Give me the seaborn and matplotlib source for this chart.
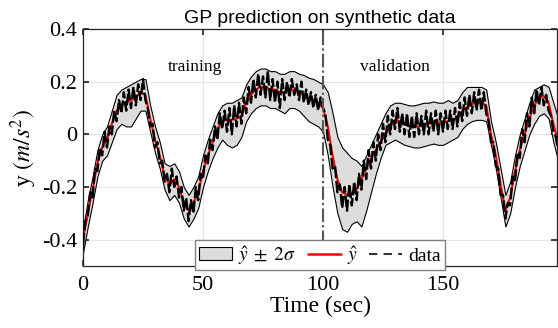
import numpy as np
import pandas as pd
import seaborn as sns
import matplotlib.pyplot as plt
from matplotlib.patches import Patch
from matplotlib.lines import Line2D

# GP posterior, every 2 s
t_gp = np.arange(0, 200, 2)
y_hat = [-0.40, -0.30, -0.21, -0.11, -0.05, -0.02, 0.04, 0.09, 0.11, 0.12,
         0.13, 0.14, 0.16, 0.15, 0.06, -0.02, -0.08, -0.16, -0.19, -0.17,
         -0.20, -0.26, -0.29, -0.26, -0.22, -0.14, -0.08, -0.03, 0.02, 0.05,
         0.055, 0.055, 0.06, 0.07, 0.12, 0.15, 0.17, 0.18, 0.18, 0.17,
         0.17, 0.16, 0.16, 0.17, 0.17, 0.16, 0.15, 0.135, 0.13, 0.12,
         0.10, 0.03, -0.08, -0.17, -0.22, -0.23, -0.225, -0.21, -0.17, -0.13,
         -0.09, -0.06, -0.03, 0.00, 0.03, 0.055, 0.05, 0.04, 0.03, 0.03,
         0.03, 0.035, 0.04, 0.045, 0.045, 0.045, 0.05, 0.055, 0.06, 0.09,
         0.105, 0.115, 0.12, 0.12, 0.11, 0.00, -0.08, -0.19, -0.29, -0.24,
         -0.14, -0.06, 0.00, 0.06, 0.11, 0.14, 0.145, 0.12, 0.04, -0.03]
band_lo = [-0.45, -0.35, -0.26, -0.16, -0.10, -0.08, -0.03, 0.02, 0.04, 0.03,
           0.03, 0.06, 0.09, 0.09, 0.01, -0.07, -0.13, -0.21, -0.25, -0.23,
           -0.26, -0.32, -0.35, -0.32, -0.28, -0.20, -0.14, -0.09, -0.05, -0.02,
           -0.04, -0.05, -0.04, -0.01, 0.05, 0.08, 0.10, 0.11, 0.11, 0.10,
           0.10, 0.09, 0.08, 0.10, 0.10, 0.09, 0.07, 0.05, 0.04, 0.03,
           0.01, -0.08, -0.20, -0.30, -0.36, -0.37, -0.34, -0.33, -0.35, -0.29,
           -0.22, -0.15, -0.09, -0.04, -0.03, -0.02, -0.03, -0.04, -0.045, -0.05,
           -0.05, -0.045, -0.04, -0.035, -0.04, -0.04, -0.03, -0.02, -0.01, 0.02,
           0.04, 0.05, 0.055, 0.055, 0.05, -0.04, -0.13, -0.24, -0.35, -0.30,
           -0.20, -0.12, -0.06, 0.00, 0.04, 0.07, 0.08, 0.06, -0.03, -0.10]
band_hi = [-0.36, -0.25, -0.16, -0.06, 0.00, 0.03, 0.09, 0.15, 0.17, 0.18,
           0.19, 0.20, 0.21, 0.21, 0.11, 0.03, -0.03, -0.11, -0.12, -0.11,
           -0.14, -0.20, -0.23, -0.20, -0.16, -0.08, -0.02, 0.03, 0.08, 0.11,
           0.12, 0.12, 0.13, 0.14, 0.19, 0.22, 0.24, 0.25, 0.25, 0.24,
           0.24, 0.23, 0.23, 0.24, 0.24, 0.23, 0.225, 0.215, 0.21, 0.20,
           0.19, 0.16, 0.08, -0.01, -0.05, -0.07, -0.09, -0.10, -0.12, -0.08,
           -0.04, 0.00, 0.04, 0.08, 0.11, 0.12, 0.12, 0.115, 0.11, 0.11,
           0.115, 0.12, 0.12, 0.125, 0.12, 0.12, 0.13, 0.12, 0.13, 0.16,
           0.18, 0.18, 0.18, 0.18, 0.17, 0.05, -0.03, -0.13, -0.23, -0.18,
           -0.08, 0.00, 0.06, 0.12, 0.17, 0.18, 0.19, 0.18, 0.12, 0.06]

# measured data, 1 s steps
t_data = np.arange(0, 199, 1)
y_data = [-0.42, -0.33, -0.31, -0.22, -0.24, -0.13, -0.14, -0.05, -0.08, 0.01,
          -0.05, 0.03, 0.00, 0.09, 0.05, 0.13, 0.08, 0.16, 0.09, 0.17,
          0.10, 0.18, 0.11, 0.19, 0.13, 0.21, 0.13, 0.10, 0.03, 0.04,
          -0.05, -0.03, -0.11, -0.10, -0.18, -0.15, -0.22, -0.13, -0.20, -0.16,
          -0.24, -0.20, -0.29, -0.24, -0.33, -0.25, -0.30, -0.20, -0.25, -0.15,
          -0.17, -0.08, -0.11, -0.02, -0.06, 0.03, -0.02, 0.08, 0.02, 0.09,
          0.01, 0.10, 0.00, 0.11, 0.03, 0.12, 0.04, 0.14, 0.08, 0.18,
          0.12, 0.21, 0.14, 0.23, 0.15, 0.22, 0.14, 0.24, 0.13, 0.21,
          0.12, 0.20, 0.10, 0.21, 0.13, 0.20, 0.14, 0.21, 0.15, 0.19,
          0.13, 0.20, 0.12, 0.17, 0.11, 0.16, 0.10, 0.15, 0.09, 0.14,
          0.10, 0.08, -0.02, -0.04, -0.13, -0.12, -0.22, -0.19, -0.28, -0.20,
          -0.29, -0.19, -0.27, -0.18, -0.25, -0.15, -0.21, -0.10, -0.17, -0.06,
          -0.13, -0.03, -0.10, 0.00, -0.06, 0.04, -0.03, 0.07, 0.00, 0.09,
          0.02, 0.10, 0.01, 0.08, 0.00, 0.08, -0.01, 0.07, -0.01, 0.08,
          0.00, 0.07, 0.00, 0.09, 0.00, 0.08, 0.01, 0.09, 0.00, 0.08,
          0.01, 0.09, 0.02, 0.09, 0.02, 0.10, 0.03, 0.12, 0.05, 0.14,
          0.07, 0.15, 0.08, 0.16, 0.09, 0.17, 0.09, 0.16, 0.08, 0.05,
          -0.03, -0.03, -0.12, -0.13, -0.23, -0.23, -0.32, -0.26, -0.27, -0.16,
          -0.18, -0.07, -0.09, 0.02, -0.03, 0.08, 0.03, 0.14, 0.08, 0.17,
          0.11, 0.18, 0.11, 0.15, 0.09, 0.07, 0.01, -0.01, -0.06]

gp = pd.DataFrame({"t": t_gp, "yhat": y_hat, "lo": band_lo, "hi": band_hi})
meas = pd.DataFrame({"t": t_data, "y": y_data})

sns.set_theme(style="whitegrid")
plt.rcParams['font.family'] = ['Liberation Serif', 'DejaVu Serif']
plt.rcParams['mathtext.fontset'] = 'stix'
plt.rcParams['axes.unicode_minus'] = False
plt.rcParams['text.color'] = 'black'
plt.rcParams['axes.labelcolor'] = 'black'
plt.rcParams['xtick.color'] = 'black'
plt.rcParams['ytick.color'] = 'black'

fig = plt.figure(figsize=(5.58, 3.28), dpi=100)
ax = fig.add_axes([83/558, 1-266/328, 474/558, 237/328])

ax.fill_between(gp["t"], gp["lo"], gp["hi"], facecolor="#dcdcdc",
                edgecolor="black", linewidth=0.8, zorder=1)
sns.lineplot(data=gp, x="t", y="yhat", ax=ax, color="red", linewidth=1.5,
             zorder=2)
sns.lineplot(data=meas, x="t", y="y", ax=ax, color="black", linewidth=1.7,
             dashes=False, zorder=3).lines[-1].set_dashes([5, 1.2])
ax.axvline(100, color="#555555", linestyle="-.", linewidth=1.5, zorder=4)

ax.text(46.7, 0.254, "training", ha="center", va="center", fontsize=12.5)
ax.text(130, 0.254, "validation", ha="center", va="center", fontsize=12.5)

ax.set_xlim(0, 197.5)
ax.set_ylim(-0.5, 0.4)
ax.set_xticks([0, 50, 100, 150])
ax.set_yticks([-0.4, -0.2, 0, 0.2, 0.4])
ax.set_yticklabels(["-0.4", "-0.2", "0", "0.2", "0.4"])
ax.tick_params(direction="in", length=4, labelsize=16, top=True, right=True,
               bottom=True, left=True, color="#262626")
ax.tick_params(axis="x", pad=7)
ax.tick_params(axis="y", pad=4)
ax.grid(True, color="#e6e6e6", linewidth=0.8)
for s in ax.spines.values():
    s.set_visible(True)
    s.set_color("#262626")
    s.set_linewidth(0.9)
ax.set_facecolor("white")

ax.set_xlabel("Time (sec)", fontsize=17, labelpad=1)
ax.set_ylabel(r"y $(m/s^2)$", fontsize=17, labelpad=2)
ax.set_title("GP prediction on synthetic data", fontsize=14,
             family=["Liberation Sans", "DejaVu Sans"], pad=4)

handles = [Patch(facecolor="#dcdcdc", edgecolor="black", linewidth=0.8),
           Line2D([], [], color="red", linewidth=1.8),
           Line2D([], [], color="#333333", linestyle=(0, (4, 3)), linewidth=1.5)]
labels = [r"$\hat{y}\;\pm\;2\sigma$", r"$\hat{y}$", "data"]
leg = ax.legend(handles, labels, loc="center", bbox_to_anchor=(0.5, 0.046),
                ncol=3, fontsize=14, frameon=True, fancybox=False,
                handlelength=1.7, handletextpad=0.3, columnspacing=0.6,
                borderpad=0.2, borderaxespad=0, handleheight=0.65)
leg.get_frame().set_edgecolor("#808080")
leg.get_frame().set_linewidth(1.0)
leg.get_frame().set_alpha(1)
leg.set_zorder(10)

fig.savefig("out.png", dpi=100)
